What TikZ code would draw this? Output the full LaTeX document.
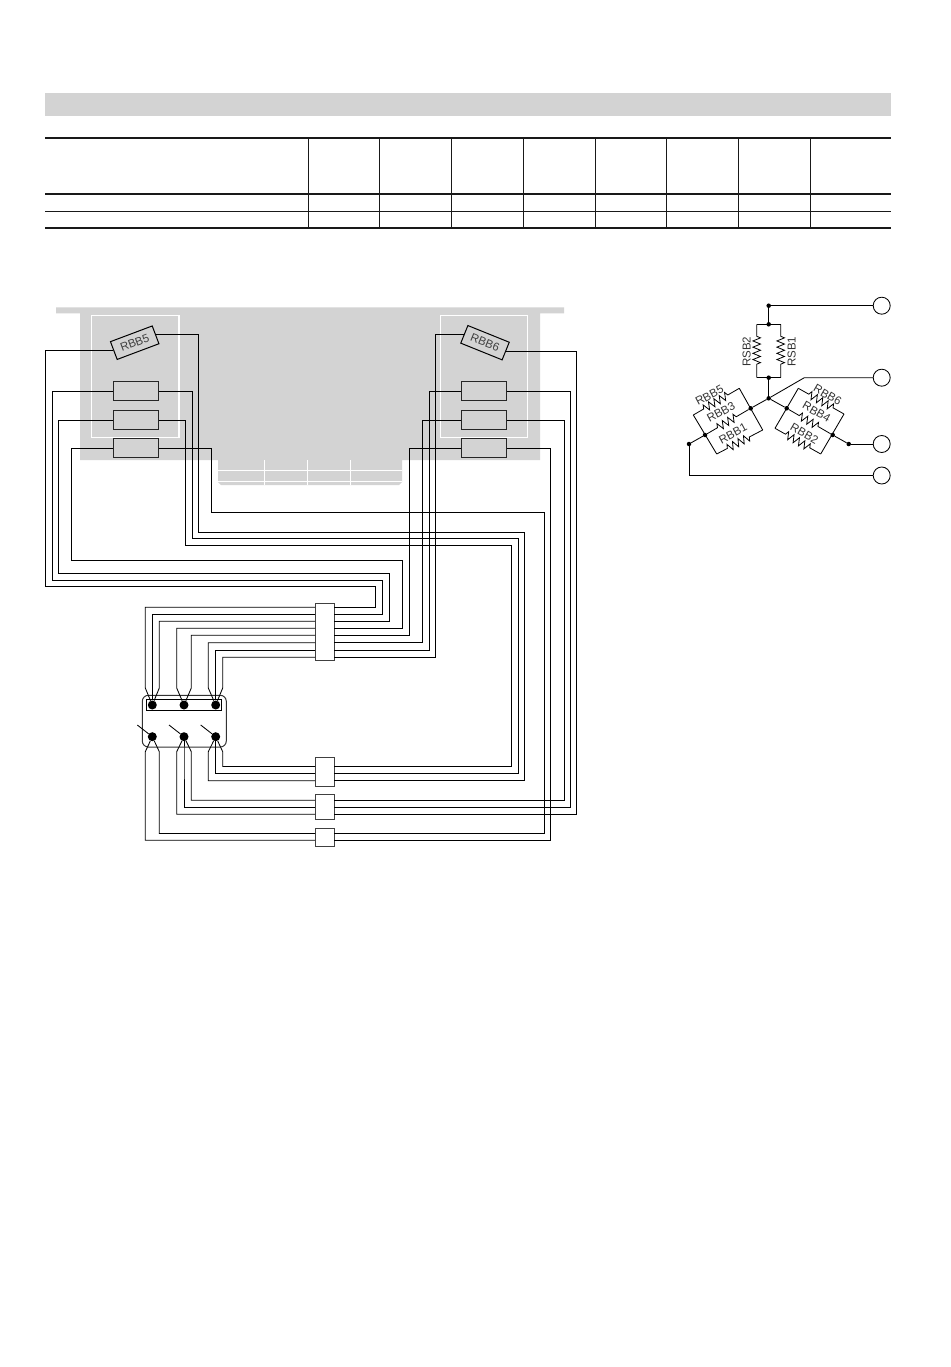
\documentclass[tikz,border=0pt]{standalone}
\usepackage{fontspec}
\setmainfont{Liberation Sans}
\usetikzlibrary{decorations.pathmorphing,positioning}
\definecolor{panel}{HTML}{D3D3D3}
\tikzset{
	wire/.style={draw=black,line width=0.85pt},
	rule/.style={draw=black!90,line width=#1},
	resbox/.style={draw=black!85,line width=1pt,minimum width=44.6pt,minimum height=19pt,inner sep=0pt},
	pinbox/.style={draw=black!75,fill=white,line width=1pt,minimum width=19pt,inner sep=0pt},
	lbl/.style={font=\fontsize{11.5}{11.5}\selectfont,text=black!80,inner sep=0pt},
	dot/.style={circle,fill=black,inner sep=0pt,minimum size=#1},
	term/.style={circle,draw=black,line width=0.85pt,minimum size=17pt,inner sep=0pt},
	res/.style={line width=0.8pt,decorate,decoration={zigzag,amplitude=3.8pt,segment length=6.2pt,pre length=12pt,post length=12pt}}
}
\begin{document}
\begin{tikzpicture}[x=1pt,y=-1pt]
	\useasboundingbox (0,0) rectangle (950,1367);
	\fill[panel] (45,93) rectangle (891,116.5);
	\draw[rule=1.9pt] (45,137.7) -- (891,137.7);
	\draw[rule=1.9pt] (45,194) -- (891,194);
	\draw[rule=1.1pt] (45,211.7) -- (891,211.7);
	\draw[rule=1.9pt] (45,227.9) -- (891,227.9);
	\foreach \x in {308.3,379.3,451.3,523,595,666.5,738.5,810.5}
		\draw[rule=0.9pt] (\x,137.7) -- (\x,227.7);

	\fill[panel] (56,307.3) -- (564,307.3) -- (564,313.3) -- (540,313.3) -- (540,460) -- (402,460) -- (402,482) -- (399,485) -- (221,485) -- (218,482) -- (218,460) -- (80,460) -- (80,313.3) -- (56,313.3) -- cycle;
	\draw[white,line width=1.1pt] (218,470.3) -- (402,470.3) (218,481.7) -- (402,481.7);
	\foreach \x in {264.3,307.5,350.7}
		\draw[white,line width=1.1pt] (\x,460) -- (\x,485);
	\draw[white,line width=1.5pt] (91.7,315.7) rectangle (179,437.7);
	\draw[white,line width=1.5pt] (440.7,315.7) rectangle (527.3,437.7);

	\node[resbox,rotate=20.6,lbl,draw=black,text=black!75] (RBB5) at (134.7,342.7) {RBB5};
	\node[resbox,rotate=-22,lbl,draw=black,text=black!75] (RBB6) at (485,342.7) {RBB6};
	\foreach \y/\n in {391.3/3,420/2,448.3/1} {
		\node[resbox] (RL\n) at (135.7,\y) {};
		\node[resbox] (RR\n) at (484.2,\y) {};
	}

	\node[pinbox,minimum height=57.4pt] (CA) at (324.5,632) {};
	\node[pinbox,minimum height=29pt] (CB) at (324.5,771.8) {};
	\node[pinbox,minimum height=25.3pt] (CC) at (324.5,807.3) {};
	\node[pinbox,minimum height=18.3pt] (CD) at (324.5,837.2) {};
	\foreach \y [count=\n] in {607.3,614.3,621.3,628.3,635.3,642.8,650.2,657.2} {
		\coordinate (AL\n) at (315,\y);
		\coordinate (AR\n) at (334,\y);
	}
	\foreach \y [count=\n] in {766.5,773.4,780.7} {
		\coordinate (BL\n) at (315,\y);
		\coordinate (BR\n) at (334,\y);
	}
	\foreach \y [count=\n] in {800.2,807.3,814.3} {
		\coordinate (CL\n) at (315,\y);
		\coordinate (CR\n) at (334,\y);
	}
	\foreach \y [count=\n] in {833.5,840.3} {
		\coordinate (DL\n) at (315,\y);
		\coordinate (DR\n) at (334,\y);
	}

	\draw[wire,draw=black!80,rounded corners=6pt,line width=1pt] (142.3,695.3) rectangle (226.3,747);
	\draw[wire] (146.7,699.3) rectangle (221.3,710.3);
	\foreach \x [count=\n] in {152.3,184,215.7} {
		\node[dot=9pt] (T\n) at (\x,705) {};
		\node[dot=9pt] (B\n) at (\x,736.7) {};
		\coordinate (K\n) at (\x-15,725);
		\draw[wire] (K\n) -- (B\n);
	}

	\foreach \r/\x/\y/\e/\p in {RBB5/45.7/586.3/375.7/AR1,RL3/52.3/580/382.3/AR2,RL2/58.3/573.7/389/AR3,RL1/71.3/560.7/402.3/AR4}
		\draw[wire] (\r.west) -| (\x,\y) -- (\e,\y) |- (\p);
	\foreach \r/\x/\y/\p in {RR1/409.3/635.3/AR5,RR2/422.7/642.8/AR6,RR3/429.3/650.2/AR7,RBB6/435.7/657.2/AR8}
		\draw[wire] (\r.west) -| (\x,\y) -- (\p);
	\foreach \r/\x/\y/\e/\p in {RBB5/198.3/532/524.7/BR3,RL3/192.3/538.7/518.3/BR2,RL2/185.7/545/511.7/BR1,RL1/211.7/512.7/544/DR1}
		\draw[wire] (\r.east) -| (\x,\y) -- (\e,\y) |- (\p);
	\foreach \r/\x/\y/\p in {RBB6/576.7/814.3/CR3,RR3/570.3/807.3/CR2,RR2/564/800.2/CR1,RR1/550.3/840.3/DR2}
		\draw[wire] (\r.east) -| (\x,\y) -- (\p);

	\foreach \n/\x/\d in {1/145.3/1,2/152.3/1,3/159.3/1,4/176.7/2,5/191.3/2,6/208.3/3,7/215.7/3,8/222.7/3}
		\draw[wire] (AL\n) -| (\x,688) -- (T\d);
	\foreach \p/\x/\d in {BL1/222.7/3,BL2/215.7/3,BL3/208.3/3,CL1/191.3/2,CL2/184/2,CL3/176.7/2,DL1/159.3/1,DL2/145.3/1}
		\draw[wire] (\p) -| (\x,751.7) -- (B\d);

	\node[term] (SA) at (881.7,305.7) {};
	\node[term] (SB) at (881.7,377.7) {};
	\node[term] (SC) at (881.7,444) {};
	\node[term] (SD) at (881.7,475.5) {};
	\node[dot=4.5pt] (JA) at (768.7,305.7) {};
	\node[dot=4.5pt] (JB) at (768.7,324.3) {};
	\node[dot=4.5pt] (JC) at (768.7,377.7) {};
	\node[dot=4.5pt] (JD) at (768.7,398.3) {};
	\node[dot=4.5pt] (JL) at (750.7,408.3) {};
	\node[dot=4.5pt] (JR) at (786.7,408.3) {};
	\node[dot=4.5pt] (JM) at (705,435) {};
	\node[dot=4.5pt] (JN) at (832.7,435) {};
	\node[dot=4.5pt] (JO) at (689,444) {};
	\node[dot=4.5pt] (JP) at (848.7,444) {};

	\draw[wire] (JA) -- (SA);
	\draw[wire] (JA) -- (JB);
	\draw[wire] (JC) -- (JD);
	\draw[wire] (JD) -- (JL);
	\draw[wire] (JD) -- (JR);
	\draw[wire] (JD) -- (804.3,377.7) -- (SB);
	\draw[wire] (JM) -- (JO);
	\draw[wire] (JO) |- (SD);
	\draw[wire] (JN) -- (JP);
	\draw[wire] (JP) -- (SC);

	\coordinate (SBa) at (756.7,324.3);
	\coordinate (SBb) at (756.7,377.7);
	\coordinate (SBc) at (780.7,324.3);
	\coordinate (SBd) at (780.7,377.7);
	\draw[wire] (SBa) -- (SBc) (SBb) -- (SBd);
	\draw[res] (SBa) -- (SBb);
	\draw[res] (SBc) -- (SBd);

	\coordinate (LTa) at (693.3,415);
	\coordinate (LTb) at (739.3,388.3);
	\coordinate (LBa) at (716.7,454);
	\coordinate (LBb) at (762.7,430);
	\draw[wire] (LTa) -- (LBa) (LTb) -- (LBb);
	\draw[res] (LTa) -- (LTb);
	\draw[res] (JM) -- (JL);
	\draw[res] (LBa) -- (LBb);

	\coordinate (RTa) at (798.3,388.3);
	\coordinate (RTb) at (844,414);
	\coordinate (RBa) at (775,428.3);
	\coordinate (RBb) at (820.7,454);
	\draw[wire] (RTa) -- (RBa) (RTb) -- (RBb);
	\draw[res] (RTa) -- (RTb);
	\draw[res] (JR) -- (JN);
	\draw[res] (RBa) -- (RBb);

	\node[lbl,rotate=90] (TB) at (746.7,351.7) {RSB2};
	\node[lbl,rotate=90] (TA) at (791.7,351.7) {RSB1};
	\node[lbl,rotate=28] (T5) at (709.5,395.5) {RBB5};
	\node[lbl,rotate=28] (T3) at (721,412) {RBB3};
	\node[lbl,rotate=28] (T1x) at (733,433.5) {RBB1};
	\node[lbl,rotate=-30] (T6) at (827.5,395) {RBB6};
	\node[lbl,rotate=-30] (T4) at (816.5,412) {RBB4};
	\node[lbl,rotate=-30] (T2) at (804.5,433.5) {RBB2};
\end{tikzpicture}
\end{document}
